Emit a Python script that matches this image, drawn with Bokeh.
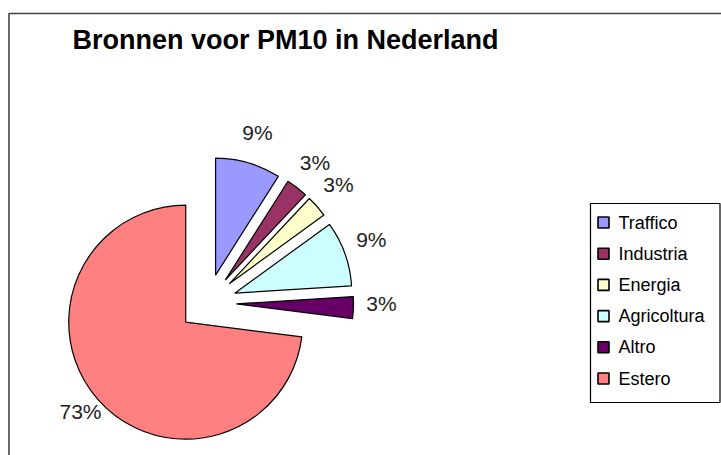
import numpy as np
from bokeh.plotting import figure
from bokeh.models import Range1d, ColumnDataSource
from bokeh.core.properties import value
from bokeh.embed import file_html
from bokeh.resources import INLINE

title = "Bronnen voor PM10 in Nederland"
categories = ["Traffico", "Industria", "Energia", "Agricoltura", "Altro", "Estero"]
values = [9, 3, 3, 9, 3, 73]
colors = ["#9999FF", "#993366", "#FFFFCC", "#CCFFFF", "#660066", "#FF8080"]

W, H = 721, 455
FONT = "Liberation Sans"

def Y(yd):
    return H - yd

p = figure(width=W, height=H, x_range=Range1d(0, W), y_range=Range1d(0, H),
           output_backend="svg", toolbar_location=None, min_border=0)
p.axis.visible = False
p.grid.visible = False
p.outline_line_color = None
p.background_fill_color = "white"
p.border_fill_color = "white"

# chart frame
p.multi_line(xs=[[8.5, 8.5, 730]], ys=[[-10, Y(13), Y(13)]], line_color="#444444", line_width=1.6)

# pie geometry
cx, cy = 207, Y(302.5)
radius = 117
explode = 29
label_dist = 143

vals = np.array(values, dtype=float)
frac = vals / vals.sum()
ends = np.cumsum(frac)
starts = ends - frac
start_angle = np.radians(90 - 360 * ends)
end_angle = np.radians(90 - 360 * starts)
mid = np.radians(90 - 360 * (starts + ends) / 2)
xs = cx + explode * np.cos(mid)
ys = cy + explode * np.sin(mid)
lx = xs + label_dist * np.cos(mid) + 2
ly = ys + label_dist * np.sin(mid) + 5
labels = ["%d%%" % round(f * 100) for f in frac]

src = ColumnDataSource(dict(x=xs, y=ys, sa=start_angle, ea=end_angle, color=colors,
                            lx=lx, ly=ly, label=labels, cat=categories))
p.wedge(x="x", y="y", radius=radius, start_angle="sa", end_angle="ea",
        fill_color="color", line_color="black", line_width=1.2, source=src)
p.text(x="lx", y="ly", text="label", source=src, text_font=value(FONT),
       text_font_size="21px", text_align="center", text_baseline="middle",
       text_color="#222222")

# title
p.text(x=[72], y=[Y(39)], text=[title], text_font=value(FONT), text_font_size="27px",
       text_font_style="bold", text_baseline="alphabetic", text_color="black")

# legend
p.quad(left=[590], right=[719.5], top=[Y(203)], bottom=[Y(402)],
       fill_color="white", line_color="black", line_width=1.2)
row_y = [Y(222 + i * 31.2) for i in range(len(categories))]
leg = ColumnDataSource(dict(y=row_y, color=colors, cat=categories))
p.rect(x=603, y="y", width=11, height=11, fill_color="color", line_color="black",
       line_width=1.6, source=leg)
p.text(x=618, y="y", text="cat", source=leg, text_font=value(FONT),
       text_font_size="18px", text_baseline="middle", text_color="black")

open("out.html", "w").write(file_html(p, INLINE))
